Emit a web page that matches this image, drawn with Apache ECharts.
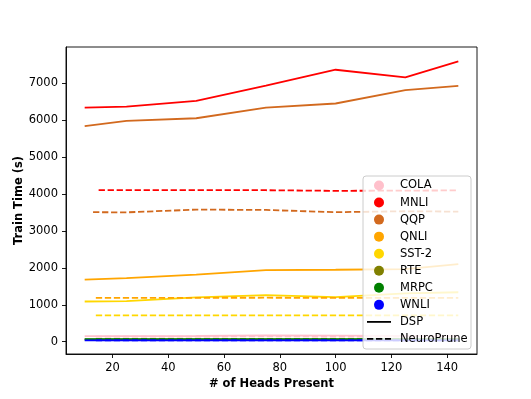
<!DOCTYPE html>
<html><head><meta charset="utf-8">
<script src="https://cdn.jsdelivr.net/npm/echarts@6/dist/echarts.min.js"></script>
<style>html,body{margin:0;padding:0;background:#fff}#c{width:531px;height:399px}</style>
</head><body><div id="c"></div>
<script>
// ---- data ----
const tasks = ['COLA', 'MNLI', 'QQP', 'QNLI', 'SST-2', 'RTE', 'MRPC', 'WNLI'];
const taskColors = ['#FFC0CB', '#FF0000', '#D2691E', '#FFA500', '#FFD700', '#808000', '#008000', '#0000FF'];
const methods = ['DSP', 'NeuroPrune'];

const dspHeads = [10, 25, 50, 75, 100, 125, 144];
const dspCOLA = [150, 150, 155, 170, 165, 160, 160];
const dspMNLI = [6345, 6370, 6525, 6940, 7370, 7165, 7595];
const dspQQP = [5840, 5985, 6055, 6345, 6455, 6815, 6935];
const dspQNLI = [1685, 1725, 1820, 1940, 1950, 1965, 2100];
const dspSST2 = [1090, 1100, 1200, 1265, 1210, 1310, 1340];
const dspRTE = [60, 60, 60, 60, 60, 60, 60];
const dspMRPC = [72, 72, 72, 72, 72, 72, 72];
const dspWNLI = [38, 38, 38, 38, 38, 38, 38];

const npHeads = [14, 25, 50, 75, 100, 125, 144];
const npHeadsMNLI = [15, 25, 50, 75, 100, 125, 144];
const npHeadsQQP = [13, 25, 50, 75, 100, 125, 144];
const npCOLA = [140, 140, 140, 145, 140, 140, 140];
const npMNLI = [4110, 4110, 4108, 4105, 4088, 4095, 4100];
const npQQP = [3510, 3505, 3580, 3570, 3510, 3535, 3525];
const npQNLI = [1188, 1188, 1190, 1192, 1188, 1190, 1186];
const npSST2 = [715, 715, 715, 715, 715, 715, 715];
const npRTE = [62, 62, 62, 62, 62, 62, 62];
const npMRPC = [68, 68, 68, 68, 68, 68, 68];
const npWNLI = [40, 40, 40, 40, 40, 40, 40];

const xTicks = [20, 40, 60, 80, 100, 120, 140];
const yTicks = [0, 1000, 2000, 3000, 4000, 5000, 6000, 7000];

// ---- build ----
const dspSets = [dspCOLA, dspMNLI, dspQQP, dspQNLI, dspSST2, dspRTE, dspMRPC, dspWNLI];
const npSets = [npCOLA, npMNLI, npQQP, npQNLI, npSST2, npRTE, npMRPC, npWNLI];
const npHeadSets = [npHeads, npHeadsMNLI, npHeadsQQP, npHeads, npHeads, npHeads, npHeads, npHeads];

const FONT = 'DejaVu Sans';
const FS = 11.5;
const LW = 1.8;
const DASH = [6.3, 2.7];

const series = [];
tasks.forEach((t, i) => {
  series.push({
    name: t + ' DSP', type: 'line', symbol: 'none', silent: true,
    lineStyle: { color: taskColors[i], width: LW },
    itemStyle: { color: taskColors[i] },
    data: dspHeads.map((h, k) => [h, dspSets[i][k]])
  });
});
tasks.forEach((t, i) => {
  series.push({
    name: t + ' NeuroPrune', type: 'line', symbol: 'none', silent: true,
    lineStyle: { color: taskColors[i], width: LW, type: DASH },
    itemStyle: { color: taskColors[i] },
    data: npHeadSets[i].map((h, k) => [h, npSets[i][k]])
  });
});

// legend drawn as graphic (matplotlib-style)
const L = { x: 363, y: 176, w: 108, h: 173, row0: 9.5, step: 17.05 };
const lg = [];
const Z = 100;
lg.push({ type: 'rect', z: Z, shape: { x: L.x, y: L.y, width: L.w, height: L.h, r: 3 },
  style: { fill: 'rgba(255,255,255,0.8)', stroke: '#cccccc', lineWidth: 1 } });
tasks.forEach((t, i) => {
  const cy = L.y + L.row0 + i * L.step;
  lg.push({ type: 'circle', z: Z + 1, shape: { cx: L.x + 16, cy: cy, r: 5 }, style: { fill: taskColors[i] } });
  lg.push({ type: 'text', z: Z + 1, x: L.x + 37, y: cy, style: { text: t, fill: '#000', font: FS + 'px "' + FONT + '"', verticalAlign: 'middle', align: 'left' } });
});
methods.forEach((m, j) => {
  const cy = L.y + L.row0 + (tasks.length + j) * L.step;
  lg.push({ type: 'line', z: Z + 1, shape: { x1: L.x + 4, y1: cy, x2: L.x + 28, y2: cy },
    style: { stroke: '#000', lineWidth: LW, lineDash: j === 1 ? DASH : null } });
  lg.push({ type: 'text', z: Z + 1, x: L.x + 37, y: cy, style: { text: m, fill: '#000', font: FS + 'px "' + FONT + '"', verticalAlign: 'middle', align: 'left' } });
});

const axisCommon = {
  type: 'value', splitLine: { show: false },
  axisLine: { show: true, onZero: false, lineStyle: { color: '#000', width: 0.9 } },
  axisTick: { show: true, length: 4, lineStyle: { color: '#000', width: 0.9 } },
  axisLabel: { color: '#000', fontFamily: FONT, fontSize: FS, formatter: v => String(v) },
  nameLocation: 'middle', nameMoveOverlap: false,
  nameTextStyle: { color: '#000', fontFamily: FONT, fontSize: FS, fontWeight: 'bold' }
};

const option = {
  animation: false,
  backgroundColor: '#fff',
  grid: { left: 66, right: 54, top: 47, bottom: 45, containLabel: false, outerBoundsMode: 'none',
    show: true, borderColor: '#000', borderWidth: 0.9, backgroundColor: 'transparent' },
  xAxis: Object.assign({}, axisCommon, {
    min: 3.3, max: 150.7, name: '# of Heads Present', nameGap: 24,
    axisTick: Object.assign({}, axisCommon.axisTick, { customValues: xTicks }),
    axisLabel: Object.assign({}, axisCommon.axisLabel, { customValues: xTicks, margin: 8 })
  }),
  yAxis: Object.assign({}, axisCommon, {
    min: -333, max: 7986, name: 'Train Time (s)', nameGap: 41,
    axisTick: Object.assign({}, axisCommon.axisTick, { customValues: yTicks }),
    axisLabel: Object.assign({}, axisCommon.axisLabel, { customValues: yTicks, margin: 8 })
  }),
  series: series,
  graphic: lg
};

const chart = echarts.init(document.getElementById('c'), null, { renderer: 'canvas' });
chart.setOption(option);
</script>
</body></html>
